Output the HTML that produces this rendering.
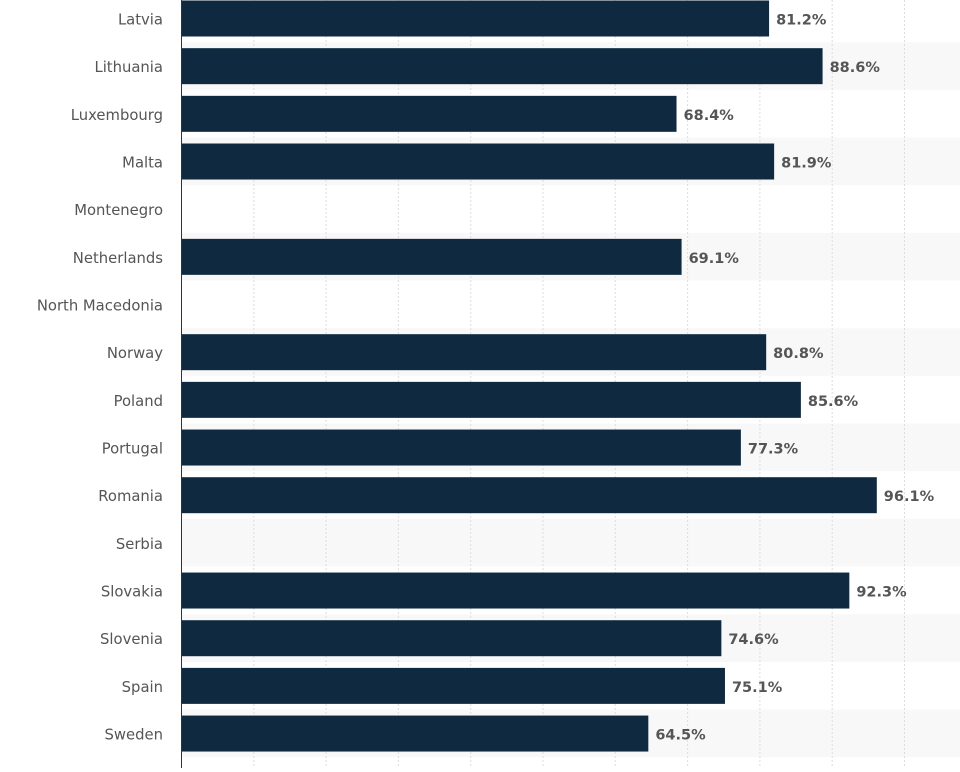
<!DOCTYPE html>
<html><head><meta charset="utf-8"><style>
body{margin:0;width:960px;height:768px;background:#fff;overflow:hidden;font-family:"DejaVu Sans",sans-serif;}
</style></head><body>
<svg width="960" height="768" xmlns="http://www.w3.org/2000/svg" font-family="DejaVu Sans, sans-serif">
<g id="bands"></g><g id="grid"></g><g id="bars"></g>
<line x1="181.5" y1="0" x2="181.5" y2="768" stroke="#333" stroke-width="1"/>
</svg>
<script>
const d=[["Latvia",81.2],["Lithuania",88.6],["Luxembourg",68.4],["Malta",81.9],["Montenegro",null],["Netherlands",69.1],["North Macedonia",null],["Norway",80.8],["Poland",85.6],["Portugal",77.3],["Romania",96.1],["Serbia",null],["Slovakia",92.3],["Slovenia",74.6],["Spain",75.1],["Sweden",64.5]];
const ns="http://www.w3.org/2000/svg";
function el(p,t,a,txt){const e=document.createElementNS(ns,t);for(const k in a)e.setAttribute(k,a[k]);if(txt)e.textContent=txt;document.getElementById(p).appendChild(e);}
const s=7.23,x0=182,pitch=47.67;
d.forEach((r,i)=>{const c=18.5+pitch*i;
 if(i%2==1)el("bands","rect",{x:182,y:c-24,width:778,height:pitch,fill:"#f8f8f8"});
 el("bars","text",{x:163,y:c+6,"text-anchor":"end","font-size":"14.8",fill:"#555"},r[0]);
 if(r[1]!=null){const w=r[1]*s;el("bars","rect",{x:x0,y:c-18,width:w,height:36,fill:"#0f2a40"});
 el("bars","text",{x:x0+w+7,y:c+6,"font-size":"14.5","font-weight":"bold",fill:"#555"},r[1].toFixed(1)+"%");}
});
for(let k=1;k<=10;k++){const x=181.5+72.3*k;el("grid","line",{x1:x,y1:0,x2:x,y2:768,stroke:"#ddd","stroke-dasharray":"2,2"});}
</script>
</body></html>
